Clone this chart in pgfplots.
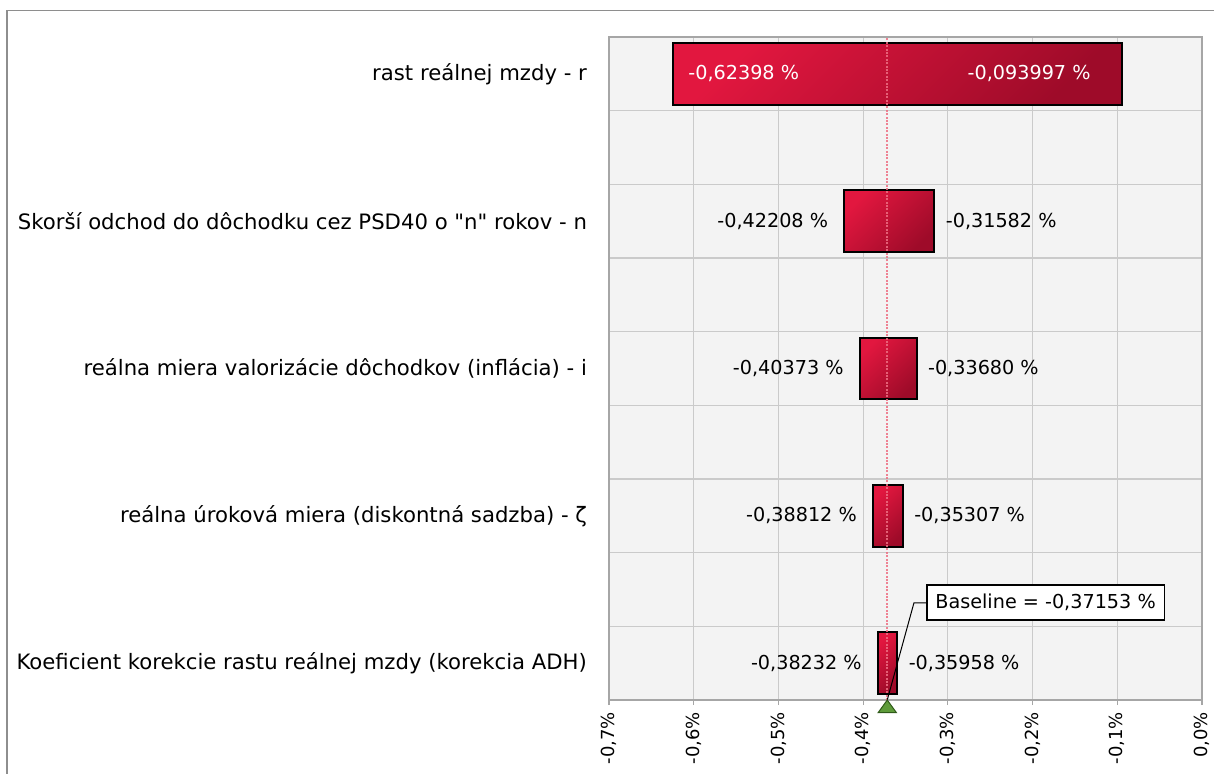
\documentclass[border=0pt]{standalone}
\usepackage{fontspec}
\setmainfont{DejaVu Sans}
\usepackage{pgfplots}
\pgfplotsset{compat=1.18}

\definecolor{barL}{HTML}{E2173F}
\definecolor{barD}{HTML}{9E0B29}
\definecolor{bgGray}{HTML}{F3F3F3}
\definecolor{gridGray}{HTML}{CACACA}
\definecolor{axisGray}{HTML}{A6A6A6}
\definecolor{frameGray}{HTML}{8E8E8E}
\definecolor{baseRed}{HTML}{EE6F83}
\definecolor{triGreen}{HTML}{5E9B3A}
\definecolor{triEdge}{HTML}{2F5A1A}

\newcommand{\vfont}{\fontsize{9.6}{11}\selectfont}
\newcommand{\lfont}{\fontsize{10.6}{12}\selectfont}

\begin{document}
\begin{tikzpicture}
\useasboundingbox (0,0) rectangle (607pt,-387pt);
\draw[frameGray, line width=0.8pt] (3.5pt,-5.2pt) rectangle (650pt,-420pt);

\begin{axis}[
  at={(304.5pt,-350pt)}, anchor=south west,
  scale only axis, width=296.5pt, height=331.5pt,
  xmin=-0.7, xmax=0, ymin=-0.25, ymax=4.25,
  clip=false,
  axis background/.style={fill=bgGray},
  axis line style={axisGray, line width=0.8pt},
  xtick={-0.7,-0.6,-0.5,-0.4,-0.3,-0.2,-0.1,0},
  xticklabels={{-0,7\%},{-0,6\%},{-0,5\%},{-0,4\%},{-0,3\%},{-0,2\%},{-0,1\%},{0,0\%}},
  xticklabel style={rotate=90, anchor=east, font=\fontsize{9}{10}\selectfont},
  tick align=outside, major tick length=2.5pt,
  x tick style={axisGray, line width=0.6pt},
  xtick pos=bottom,
  xmajorgrids,
  ytick={0,1,2,3,4},
  yticklabels={
    {Koeficient korekcie rastu reálnej mzdy (korekcia ADH)},
    {reálna úroková miera (diskontná sadzba) - ζ},
    {reálna miera valorizácie dôchodkov (inflácia) - i},
    {Skorší odchod do dôchodku cez PSD40 o \textquotedbl n\textquotedbl{} rokov - n},
    {rast reálnej mzdy - r}},
  yticklabel style={anchor=east, font=\lfont, xshift=-5pt},
  y tick style={draw=none},
  minor ytick={0.25,0.75,1.25,1.75,2.25,2.75,3.25,3.75},
  yminorgrids,
  grid style={gridGray, line width=0.6pt},
  minor grid style={gridGray, line width=0.6pt},
]

% tornado bars: low and high result for each input
\pgfplotsset{tbar/.style={draw=black, line width=1pt,
  top color=barL, bottom color=barD, shading angle=45}}
\addplot[tbar] coordinates {(-0.62398,3.79) (-0.093997,3.79) (-0.093997,4.21) (-0.62398,4.21)} -- cycle;
\addplot[tbar] coordinates {(-0.42208,2.79) (-0.31582,2.79) (-0.31582,3.21) (-0.42208,3.21)} -- cycle;
\addplot[tbar] coordinates {(-0.40373,1.79) (-0.33680,1.79) (-0.33680,2.21) (-0.40373,2.21)} -- cycle;
\addplot[tbar] coordinates {(-0.38812,0.79) (-0.35307,0.79) (-0.35307,1.21) (-0.38812,1.21)} -- cycle;
\addplot[tbar] coordinates {(-0.38232,-0.21) (-0.35958,-0.21) (-0.35958,0.21) (-0.38232,0.21)} -- cycle;

% baseline
\addplot[baseRed, line width=0.9pt, dash pattern=on 1pt off 0.7pt, opacity=0.85] coordinates {(-0.37153,-0.25) (-0.37153,4.25)};
\addplot[only marks, mark=triangle*, mark size=4.2pt,
  mark options={fill=triGreen, draw=triEdge, line width=0.5pt, yshift=-4.2pt, xscale=1.25}]
  coordinates {(-0.37153,-0.25)};

% value labels
\node[anchor=west, inner sep=0pt, xshift=7.3pt, text=white, font=\vfont] at (axis cs:-0.62398,4) {-0,62398 \%};
\node[anchor=east, inner sep=0pt, xshift=-15.7pt, text=white, font=\vfont] at (axis cs:-0.093997,4) {-0,093997 \%};
\node[anchor=east, inner sep=0pt, xshift=-8pt, font=\vfont] at (axis cs:-0.42208,3) {-0,42208 \%};
\node[anchor=west, inner sep=0pt, xshift=5.5pt, font=\vfont] at (axis cs:-0.31582,3) {-0,31582 \%};
\node[anchor=east, inner sep=0pt, xshift=-8pt, font=\vfont] at (axis cs:-0.40373,2) {-0,40373 \%};
\node[anchor=west, inner sep=0pt, xshift=5.5pt, font=\vfont] at (axis cs:-0.33680,2) {-0,33680 \%};
\node[anchor=east, inner sep=0pt, xshift=-8pt, font=\vfont] at (axis cs:-0.38812,1) {-0,38812 \%};
\node[anchor=west, inner sep=0pt, xshift=5.5pt, font=\vfont] at (axis cs:-0.35307,1) {-0,35307 \%};
\node[anchor=east, inner sep=0pt, xshift=-8pt, font=\vfont] at (axis cs:-0.38232,0) {-0,38232 \%};
\node[anchor=west, inner sep=0pt, xshift=5.5pt, font=\vfont] at (axis cs:-0.35958,0) {-0,35958 \%};

% baseline callout
\node[draw=black, line width=0.8pt, fill=white, anchor=west, inner xsep=4.3pt,
  minimum height=17.5pt, font=\vfont] (box) at (axis cs:-0.3258,0.41) {Baseline = -0,37153 \%};
\draw[black, line width=0.5pt] (axis cs:-0.37153,-0.25) -- (axis cs:-0.34,0.41) -- (box.west);
\end{axis}
\end{tikzpicture}
\end{document}
